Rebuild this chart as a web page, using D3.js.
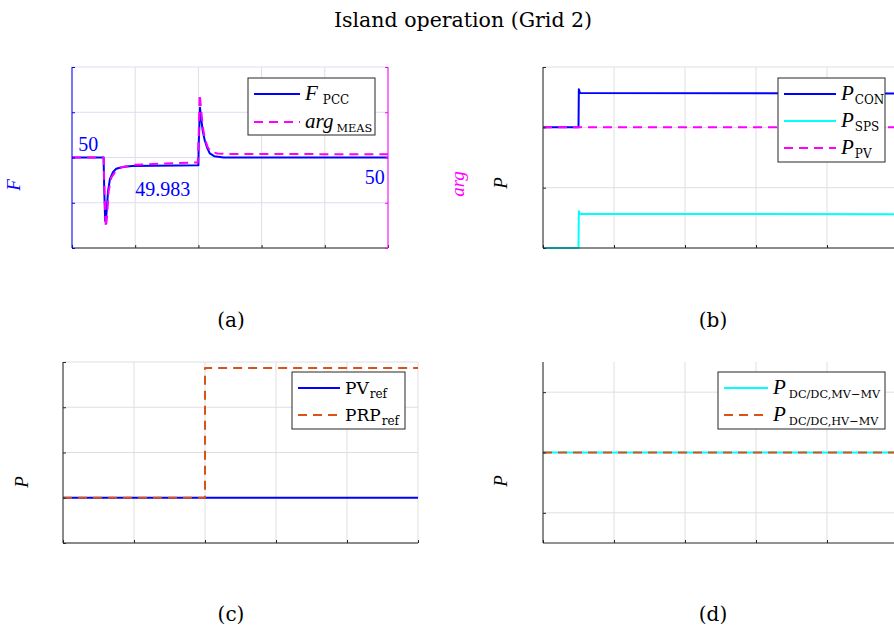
<!DOCTYPE html>
<html>
<head>
<meta charset="utf-8">
<script src="https://cdn.jsdelivr.net/npm/d3@7/dist/d3.min.js"></script>
<style>
  html, body { margin: 0; padding: 0; background: #fff; }
  svg { display: block; }
</style>
</head>
<body>
<svg id="chart" width="894" height="629" font-family="DejaVu Serif"></svg>
<script>
// ---- Data ---------------------------------------------------------------
const timeTicks = [0, 1, 2, 3, 4, 5];

// (a) frequency at PCC and measured angle
const freqTicks = [49.8, 49.9, 50, 50.1, 50.2];
const fPcc = [
  [0, 50], [0.5, 50], [0.51, 49.93], [0.525, 49.86], [0.545, 49.875],
  [0.57, 49.925], [0.6, 49.952], [0.65, 49.968], [0.7, 49.975], [0.8, 49.979],
  [0.95, 49.981], [1.3, 49.982], [2.0, 49.983], [2.005, 50.03], [2.025, 50.11],
  [2.045, 50.085], [2.07, 50.058], [2.1, 50.038], [2.14, 50.021], [2.18, 50.009],
  [2.25, 50.003], [2.4, 50.0], [5, 50]
];
const argMeas = [
  [0, 50], [0.5, 50], [0.515, 49.92], [0.535, 49.845], [0.555, 49.87],
  [0.58, 49.925], [0.62, 49.955], [0.7, 49.972], [0.8, 49.979], [1.0, 49.984],
  [1.5, 49.987], [1.99, 49.989], [2.005, 50.05], [2.02, 50.14], [2.04, 50.11],
  [2.07, 50.068], [2.1, 50.042], [2.15, 50.022], [2.2, 50.013], [2.3, 50.009],
  [2.5, 50.008], [5, 50.007]
];
const freqNotes = [
  { t: 0.1, v: 50, text: "50" },
  { t: 1.0, v: 49.983, text: "49.983" },
  { t: 4.95, v: 50, text: "50" }
];

// (b) powers
const powerTicksB = [0, 1, 2, 3];
const pCon = [[0, 2], [0.5, 2], [0.505, 2.63], [0.52, 2.57], [5, 2.56]];
const pSps = [[0, 0], [0.5, 0], [0.505, 0.61], [0.52, 0.565], [5, 0.56]];
const pPv = [[0, 2], [5, 2]];

// (c) references
const powerTicksC = [0, 1, 2, 3, 4];
const pvRef = [[0, 1], [5, 1]];
const prpRef = [[0, 1], [2, 1], [2, 3.87], [5, 3.87]];

// (d) DC/DC converter powers
const powerTicksD = [-1, 0, 1];
const pDcMv = [[0, 0], [5, 0]];
const pDcHv = [[0, 0], [5, 0]];

// ---- Styling ------------------------------------------------------------
const AXIS = "#262626";
const GRID = "#dfdfdf";
const BLUE = "#0000ff", MAGENTA = "#ff00ff", CYAN = "#00ffff", ORANGE = "#d95319";
const DASH = "9,6";
const SERIF = "DejaVu Serif";
const MATH = "Liberation Serif";

const svg = d3.select("#chart");

svg.append("text")
  .attr("x", 463).attr("y", 27)
  .attr("text-anchor", "middle")
  .attr("font-family", SERIF)
  .attr("font-size", 20.5)
  .attr("fill", "#000")
  .text("Island operation (Grid 2)");

let clipId = 0;

function panel(cfg) {
  const x = d3.scaleLinear().domain([0, 5]).range([cfg.x0, cfg.x1]);
  const y = d3.scaleLinear().domain(cfg.yDomain).range([cfg.y1, cfg.y0]);
  const g = svg.append("g");

  // grid
  g.append("g").selectAll("line").data(timeTicks).join("line")
    .attr("x1", d => x(d)).attr("x2", d => x(d))
    .attr("y1", cfg.y0).attr("y2", cfg.y1)
    .attr("stroke", GRID).attr("stroke-width", 1);
  g.append("g").selectAll("line").data(cfg.yTicks).join("line")
    .attr("x1", cfg.x0).attr("x2", cfg.x1)
    .attr("y1", d => y(d)).attr("y2", d => y(d))
    .attr("stroke", cfg.hGrid || GRID).attr("stroke-width", 1);

  // series
  const id = "clip" + (clipId++);
  svg.append("clipPath").attr("id", id).append("rect")
    .attr("x", cfg.x0).attr("y", cfg.y0 - 2)
    .attr("width", cfg.x1 - cfg.x0).attr("height", cfg.y1 - cfg.y0 + 4);
  const line = d3.line().x(d => x(d[0])).y(d => y(d[1]));
  const sg = g.append("g").attr("clip-path", `url(#${id})`);
  cfg.series.forEach(s => {
    sg.append("path").datum(s.data)
      .attr("d", line)
      .attr("fill", "none")
      .attr("stroke", s.color)
      .attr("stroke-width", 2)
      .attr("stroke-dasharray", s.dash ? DASH : null)
      .attr("stroke-linejoin", "round");
  });

  // axes (ticks drawn inward)
  const bottom = d3.axisTop(x).tickValues(timeTicks).tickSize(3).tickFormat("").tickSizeOuter(0);
  const ga = g.append("g").attr("transform", `translate(0,${cfg.y1})`).call(bottom);
  ga.selectAll("path,line").attr("stroke", AXIS);
  ga.select(".domain").attr("d", `M${cfg.x0},0H${cfg.x1}`);

  const left = d3.axisRight(y).tickValues(cfg.yTicks).tickSize(3).tickFormat("").tickSizeOuter(0);
  const gl = g.append("g").attr("transform", `translate(${cfg.x0},0)`).call(left);
  gl.selectAll("path,line").attr("stroke", cfg.leftColor || AXIS);
  gl.select(".domain").attr("d", `M0,${cfg.y0}V${cfg.y1}`);

  if (cfg.rightColor) {
    const right = d3.axisLeft(y).tickValues(cfg.yTicks).tickSize(3).tickFormat("").tickSizeOuter(0);
    const gr = g.append("g").attr("transform", `translate(${cfg.x1},0)`).call(right);
    gr.selectAll("path,line").attr("stroke", cfg.rightColor);
    gr.select(".domain").attr("d", `M0,${cfg.y0}V${cfg.y1}`);
  }

  // y labels
  cfg.yLabels.forEach(l => {
    svg.append("text")
      .attr("transform", `translate(${l.x},${l.y}) rotate(-90)`)
      .attr("text-anchor", "middle")
      .attr("font-family", MATH)
      .attr("font-style", "italic")
      .attr("font-size", 19)
      .attr("fill", l.color)
      .text(l.text);
  });

  // legend
  const L = cfg.legend;
  const lg = svg.append("g");
  lg.append("rect")
    .attr("x", L.x).attr("y", L.y).attr("width", L.w).attr("height", L.h)
    .attr("fill", "#fff").attr("stroke", AXIS).attr("stroke-width", 1);
  L.items.forEach((it, i) => {
    const yy = L.y + L.first + i * L.step;
    lg.append("line")
      .attr("x1", L.x + 6).attr("x2", L.x + 6 + L.lineLen)
      .attr("y1", yy).attr("y2", yy)
      .attr("stroke", it.color).attr("stroke-width", 2)
      .attr("stroke-dasharray", it.dash ? DASH : null);
    const t = lg.append("text")
      .attr("x", L.x + 6 + L.lineLen + 5).attr("y", yy + 6)
      .attr("fill", "#000");
    t.append("tspan")
      .attr("font-family", it.italic ? MATH : SERIF)
      .attr("font-style", it.italic ? "italic" : "normal")
      .attr("font-size", it.italic ? 21 : 17)
      .text(it.main);
    t.append("tspan")
      .attr("font-family", SERIF)
      .attr("font-size", it.subSize || 12)
      .attr("dx", it.gap || 1)
      .attr("dy", 4)
      .text(it.sub);
  });

  // caption
  svg.append("text")
    .attr("x", cfg.caption.x).attr("y", cfg.caption.y)
    .attr("text-anchor", "middle")
    .attr("font-family", SERIF)
    .attr("font-size", 20)
    .attr("fill", "#000")
    .text(cfg.caption.text);

  return { x, y, g };
}

// (a)
const pa = panel({
  x0: 72, x1: 388, y0: 67, y1: 248,
  yDomain: [49.8, 50.2], yTicks: freqTicks,
  hGrid: "#dcdcf8",
  leftColor: BLUE, rightColor: MAGENTA,
  series: [
    { data: fPcc, color: BLUE },
    { data: argMeas, color: MAGENTA, dash: true }
  ],
  yLabels: [
    { x: 20, y: 185, text: "F", color: BLUE },
    { x: 464, y: 184, text: "arg", color: MAGENTA }
  ],
  legend: {
    x: 248, y: 78, w: 127, h: 57, first: 16, step: 28, lineLen: 46,
    items: [
      { main: "F", sub: "PCC", color: BLUE, italic: true, gap: 5 },
      { main: "arg", sub: "MEAS", color: MAGENTA, dash: true, italic: true, gap: 3, subSize: 11.3 }
    ]
  },
  caption: { x: 231, y: 327, text: "(a)" }
});
pa.g.append("g").selectAll("text").data(freqNotes).join("text")
  .attr("x", d => pa.x(d.t)).attr("y", (d, i) => pa.y(d.v) + (i === 0 ? -7 : i === 1 ? 31 : 26))
  .attr("text-anchor", (d, i) => i === 2 ? "end" : "start")
  .attr("font-family", MATH)
  .attr("font-size", 20)
  .attr("fill", BLUE)
  .text(d => d.text);

// (b)
panel({
  x0: 543, x1: 898, y0: 67, y1: 248,
  yDomain: [0, 3], yTicks: powerTicksB,
  series: [
    { data: pCon, color: BLUE },
    { data: pSps, color: CYAN },
    { data: pPv, color: MAGENTA, dash: true }
  ],
  yLabels: [{ x: 507, y: 183, text: "P", color: "#000" }],
  legend: {
    x: 778, y: 78, w: 107, h: 84, first: 16, step: 27, lineLen: 52,
    items: [
      { main: "P", sub: "CON", color: BLUE, italic: true },
      { main: "P", sub: "SPS", color: CYAN, italic: true },
      { main: "P", sub: "PV", color: MAGENTA, dash: true, italic: true }
    ]
  },
  caption: { x: 713, y: 327, text: "(b)" }
});

// (c)
panel({
  x0: 63, x1: 418, y0: 362, y1: 543,
  yDomain: [0, 4], yTicks: powerTicksC,
  series: [
    { data: pvRef, color: BLUE },
    { data: prpRef, color: ORANGE, dash: true }
  ],
  yLabels: [{ x: 28, y: 482, text: "P", color: "#000" }],
  legend: {
    x: 292, y: 372, w: 113, h: 57, first: 16, step: 27, lineLen: 42,
    items: [
      { main: "PV", sub: "ref", color: BLUE, italic: false },
      { main: "PRP", sub: "ref", color: ORANGE, dash: true, italic: false }
    ]
  },
  caption: { x: 231, y: 621, text: "(c)" }
});

// (d)
panel({
  x0: 543, x1: 898, y0: 362, y1: 543,
  yDomain: [-1.5, 1.5], yTicks: powerTicksD,
  series: [
    { data: pDcMv, color: CYAN },
    { data: pDcHv, color: ORANGE, dash: true }
  ],
  yLabels: [{ x: 507, y: 481, text: "P", color: "#000" }],
  legend: {
    x: 718, y: 372, w: 167, h: 57, first: 16, step: 27, lineLen: 44,
    items: [
      { main: "P", sub: "DC/DC,MV\u2212MV", color: CYAN, italic: true, gap: 3, subSize: 11.3 },
      { main: "P", sub: "DC/DC,HV\u2212MV", color: ORANGE, dash: true, italic: true, gap: 3, subSize: 11.3 }
    ]
  },
  caption: { x: 713, y: 621, text: "(d)" }
});
</script>
</body>
</html>
